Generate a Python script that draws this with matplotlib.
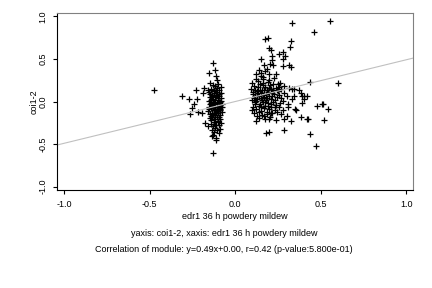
import matplotlib
matplotlib.use('Agg')
import matplotlib.pyplot as plt
import numpy as np

plt.rcParams['font.family'] = ['Liberation Sans', 'DejaVu Sans']

# left group (edr1 around -0.1)
x_left = [-0.477, -0.129, -0.119, -0.152, -0.111, -0.107, -0.119, -0.158, -0.187, -0.229,
          -0.184, -0.312, -0.268, -0.221, -0.239, -0.264, -0.254, -0.216, -0.192, -0.177,
          -0.158, -0.129, -0.115, -0.129,
          -0.145, -0.098, -0.132, -0.086, -0.141, -0.112, -0.094, -0.153, -0.126, -0.081,
          -0.138, -0.104, -0.092, -0.148, -0.117, -0.083, -0.131, -0.101, -0.156, -0.122,
          -0.089, -0.143, -0.108, -0.078, -0.135, -0.095, -0.151, -0.119, -0.084, -0.142,
          -0.105, -0.127, -0.090, -0.157, -0.114, -0.080, -0.137, -0.099, -0.147, -0.121,
          -0.087, -0.133, -0.106, -0.150, -0.116, -0.091, -0.139, -0.102, -0.125, -0.083,
          -0.144, -0.111, -0.096, -0.131, -0.118, -0.088, -0.138, -0.105, -0.124, -0.097,
          -0.135, -0.110, -0.128, -0.113, -0.097, -0.124, -0.088, -0.146, -0.109, -0.119,
          -0.102, -0.133, -0.093, -0.140, -0.116, -0.085, -0.126, -0.099, -0.153, -0.112,
          -0.079, -0.136, -0.106, -0.121, -0.094, -0.147, -0.130, -0.103, -0.117, -0.091,
          -0.141, -0.123, -0.100]
y_left = [0.135, 0.45, 0.37, 0.33, 0.30, 0.25, 0.18, 0.135, 0.096, 0.14,
          0.16, 0.065, 0.026, 0.033, -0.026, -0.143, -0.08, -0.12, -0.13, -0.25,
          -0.29, -0.61, -0.43, -0.39,
          0.22, 0.21, 0.19, 0.17, 0.15, 0.14, 0.13, 0.11, 0.10, 0.10,
          0.08, 0.08, 0.06, 0.05, 0.05, 0.04, 0.03, 0.02, 0.01, 0.00,
          0.00, -0.02, -0.02, -0.03, -0.04, -0.05, -0.06, -0.06, -0.07, -0.08,
          -0.09, -0.10, -0.10, -0.11, -0.12, -0.12, -0.13, -0.14, -0.15, -0.16,
          -0.16, -0.18, -0.18, -0.19, -0.20, -0.21, -0.22, -0.23, -0.24, -0.25,
          -0.26, -0.27, -0.28, -0.29, -0.31, -0.32, -0.33, -0.34, -0.36, -0.37,
          -0.41, -0.45, -0.06, 0.07, -0.01, 0.12, -0.09, -0.03, 0.11, -0.03,
          0.04, -0.15, 0.09, 0.02, -0.09, 0.01, -0.20, -0.24, -0.09, -0.13,
          -0.06, 0.06, 0.16, -0.27, -0.18, 0.09, -0.08, -0.07, 0.02, -0.04,
          -0.17, 0.14, -0.11]

# right group (edr1 around 0.15)
x_right = [0.331, 0.556, 0.461, 0.175, 0.190, 0.326, 0.195, 0.212, 0.320, 0.254,
           0.277, 0.293, 0.215, 0.152, 0.215, 0.277, 0.204, 0.171, 0.219, 0.277,
           0.326, 0.312, 0.142, 0.185, 0.123, 0.152, 0.200, 0.239, 0.123, 0.165,
           0.200, 0.287, 0.316, 0.345, 0.374, 0.436, 0.602, 0.390, 0.422, 0.403,
           0.393, 0.480, 0.505, 0.515, 0.544, 0.384, 0.428, 0.519, 0.436, 0.474,
           0.335, 0.384, 0.403, 0.345, 0.335, 0.277, 0.268, 0.306, 0.355, 0.277,
           0.242, 0.210, 0.420, 0.287, 0.326, 0.142, 0.171, 0.123, 0.200, 0.181,
           0.196, 0.283, 0.240, 0.350, 0.300,
           0.095, 0.112, 0.128, 0.143, 0.158, 0.174, 0.189, 0.205, 0.221, 0.236,
           0.252, 0.268, 0.102, 0.118, 0.133, 0.149, 0.164, 0.180, 0.196, 0.211,
           0.227, 0.243, 0.098, 0.114, 0.129, 0.145, 0.160, 0.176, 0.192, 0.207,
           0.223, 0.239, 0.105, 0.121, 0.137, 0.153, 0.168, 0.184, 0.199, 0.215,
           0.231, 0.110, 0.126, 0.141, 0.157, 0.172, 0.188, 0.203, 0.100, 0.135,
           0.162, 0.190, 0.220, 0.116, 0.150, 0.183, 0.248, 0.258, 0.262, 0.133,
           0.167, 0.197, 0.106, 0.140, 0.171, 0.213, 0.123, 0.155, 0.186, 0.218,
           0.117, 0.148, 0.179, 0.246, 0.230, 0.096, 0.208, 0.161, 0.127, 0.194,
           0.145, 0.175, 0.210, 0.107, 0.256, 0.235, 0.152, 0.176, 0.163, 0.228,
           0.260, 0.285, 0.300, 0.310, 0.270, 0.255]
y_right = [0.92, 0.95, 0.82, 0.74, 0.745, 0.71, 0.63, 0.60, 0.645, 0.56,
           0.585, 0.535, 0.535, 0.50, 0.485, 0.50, 0.44, 0.43, 0.43, 0.42,
           0.40, 0.425, 0.37, 0.38, 0.32, 0.30, 0.32, 0.32, 0.26, 0.27,
           0.25, 0.18, 0.16, 0.15, 0.14, 0.23, 0.22, 0.07, 0.065, 0.026,
           -0.014, -0.053, -0.033, -0.03, -0.092, -0.18, -0.21, -0.22, -0.386, -0.52,
           0.15, 0.10, 0.065, 0.065, 0.026, 0.006, 0.045, -0.033, -0.10, -0.10,
           -0.124, -0.13, -0.20, -0.21, -0.23, -0.19, -0.17, -0.23, -0.21, -0.37,
           -0.36, -0.33, -0.22, -0.09, -0.17,
           0.15, 0.18, 0.12, 0.20, 0.14, 0.17, 0.11, 0.19, 0.13, 0.16,
           0.12, 0.15, 0.09, 0.06, 0.10, 0.04, 0.08, 0.02, 0.07, 0.03,
           0.09, 0.05, 0.02, -0.01, 0.03, -0.03, 0.00, -0.05, -0.02, -0.06,
           -0.01, -0.04, -0.06, -0.09, -0.05, -0.11, -0.08, -0.12, -0.09, -0.14,
           -0.07, -0.14, -0.17, -0.12, -0.16, -0.21, -0.15, -0.18, 0.22, 0.24,
           0.22, 0.23, 0.21, 0.13, 0.10, 0.14, 0.20, 0.08, -0.02, 0.17,
           0.13, 0.16, 0.11, 0.07, 0.05, 0.10, 0.01, 0.02, 0.04, 0.06,
           -0.03, -0.07, 0.09, 0.13, 0.02, -0.10, -0.03, 0.19, 0.07, -0.05,
           0.14, -0.01, 0.15, 0.04, 0.17, -0.10, 0.33, 0.36, 0.29, 0.28,
           0.22, 0.10, 0.06, -0.06, -0.15, -0.06]

slope = 0.49
intercept = 0.00
ticks = [-1.0, -0.5, 0.0, 0.5, 1.0]
tick_labels = ['-1.0', '-0.5', '0.0', '0.5', '1.0']

fig = plt.figure(figsize=(4.32, 2.88), dpi=100)
ax = fig.add_axes([0.133, 0.34, 0.823, 0.615])

ax.plot(x_left + x_right, y_left + y_right, '+', color='black', ms=4, mew=0.9)

xl = np.array([-1.04, 1.04])
ax.plot(xl, slope * xl + intercept, color='#c0c0c0', lw=0.8)

ax.set_xlim(-1.04, 1.04)
ax.set_ylim(-1.04, 1.04)
ax.set_xticks(ticks)
ax.set_xticklabels(tick_labels, fontsize=6.5)
ax.set_yticks(ticks)
ax.set_yticklabels(tick_labels, fontsize=6.5, rotation=90, va='center')
ax.tick_params(length=3, width=0.8, pad=4)

ax.spines['top'].set_color('#808080')
ax.spines['right'].set_color('#808080')
for s in ax.spines.values():
    s.set_linewidth(0.8)

ax.set_xlabel('edr1 36 h powdery mildew', fontsize=6.5, labelpad=2)
ax.set_ylabel('coi1-2', fontsize=6.5, labelpad=0)

fig.text(0.519, 1 - 233 / 288, 'yaxis: coi1-2, xaxis: edr1 36 h powdery mildew',
         ha='center', va='center', fontsize=6.5)
fig.text(0.519, 1 - 250 / 288,
         'Correlation of module: y=0.49x+0.00, r=0.42 (p-value:5.800e-01)',
         ha='center', va='center', fontsize=6.5)

fig.savefig('out.png', dpi=100)
